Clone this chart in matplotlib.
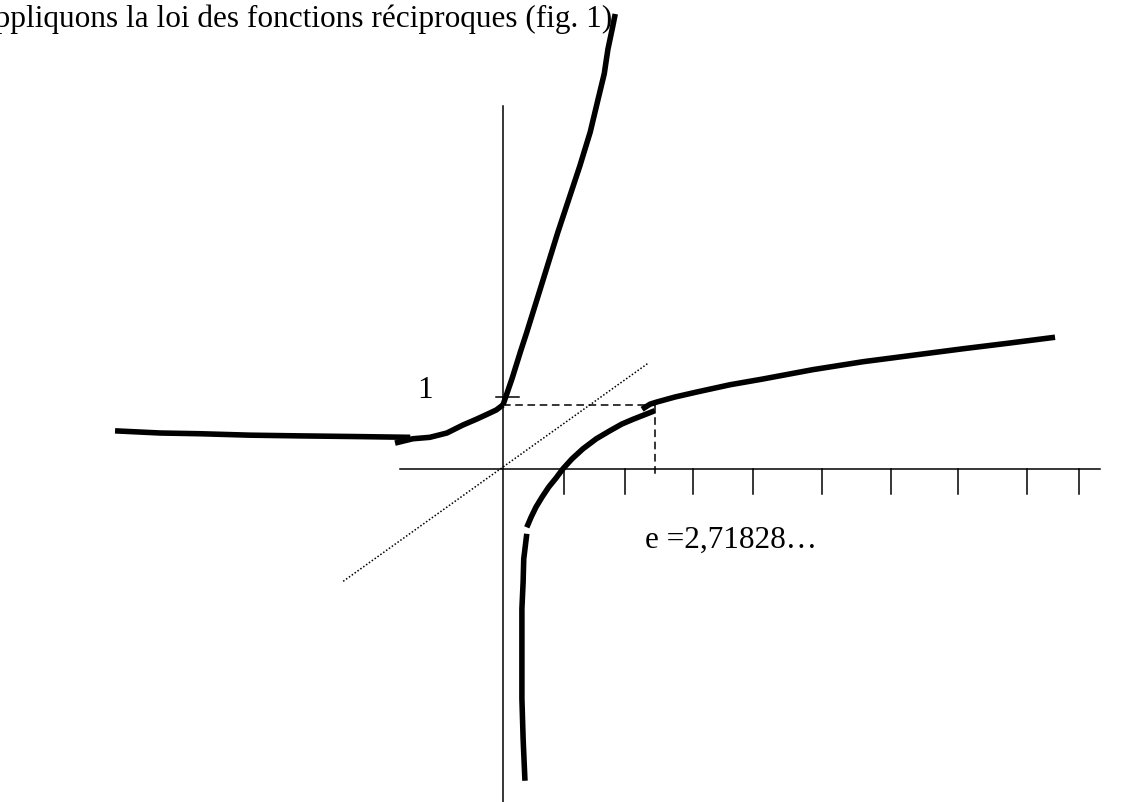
import matplotlib
matplotlib.use("Agg")
import matplotlib.pyplot as plt

# fonctions réciproques : exp et ln (tracé à la main)
plt.rcParams['font.family'] = ['Liberation Serif', 'DejaVu Serif']

# branche gauche de exp (deux traits)
trait_a_x = [-6.36, -5.62, -4.97, -4.15, -3.33, -2.34, -1.52]
trait_a_y = [0.53, 0.50, 0.49, 0.47, 0.46, 0.45, 0.44]
trait_b_x = [-1.77, -1.48, -1.20, -0.92, -0.66, -0.44, -0.26, -0.11, 0.0]
trait_b_y = [0.36, 0.42, 0.44, 0.50, 0.61, 0.69, 0.76, 0.82, 0.89]
# branche droite de exp
exp_x = [0.0, 0.15, 0.29, 0.39, 0.64, 0.90, 1.08, 1.26, 1.43, 1.56, 1.66, 1.72, 1.79, 1.84]
exp_y = [0.89, 1.26, 1.64, 1.90, 2.58, 3.29, 3.75, 4.21, 4.68, 5.14, 5.49, 5.83, 6.11, 6.32]
# ln : partie basse, courbe, queue
ln_bas_x = [0.39, 0.34, 0.33, 0.31, 0.31, 0.31, 0.31, 0.33, 0.36]
ln_bas_y = [-0.90, -1.25, -1.57, -1.94, -2.26, -2.71, -3.19, -3.75, -4.33]
ln_x = [0.39, 0.46, 0.54, 0.64, 0.75, 0.87, 0.98, 1.13, 1.31, 1.53, 1.75, 1.95, 2.13, 2.31, 2.49]
ln_y = [-0.81, -0.67, -0.53, -0.39, -0.25, -0.125, 0.0, 0.14, 0.28, 0.42, 0.53, 0.625, 0.69, 0.75, 0.81]
queue_x = [2.28, 2.41, 2.52, 2.82, 3.18, 3.72, 4.26, 5.08, 5.90, 6.72, 7.54, 8.31, 9.05]
queue_y = [0.83, 0.90, 0.93, 1.00, 1.07, 1.17, 1.25, 1.38, 1.49, 1.58, 1.67, 1.75, 1.83]

# graduations
ticks_x = [1.00, 2.00, 3.11, 4.10, 5.23, 6.36, 7.46, 8.59, 9.44]
e_val = 2.49
un_y = 0.89

fig = plt.figure(figsize=(11.48, 8.03), dpi=100)
ax = fig.add_axes([0, 0, 1, 1])
ax.set_xlim(-8.246, 10.574)
ax.set_ylim(-4.625, 6.528)
ax.axis('off')

# axes
ax.plot([-1.69, 9.79], [0, 0], color='black', lw=1.1)
ax.plot([0, 0], [-4.7, 5.04], color='black', lw=1.1)
for t in ticks_x:
    ax.plot([t, t], [0, -0.35], color='black', lw=1.1)
ax.plot([-0.11, 0.26], [1, 1], color='black', lw=1.1)

# bissectrice y = x
ax.plot([-2.62, 2.38], [-1.56, 1.47], color='black', lw=1.1, dashes=(1, 1.3))

# pointillés vers e
ax.plot([0, e_val], [un_y, un_y], color='black', lw=1.1, dashes=(5, 3))
ax.plot([e_val, e_val], [un_y, -0.11], color='black', lw=1.1, dashes=(5, 3))

kw = dict(color='black', lw=4.0, solid_capstyle='butt', solid_joinstyle='round')
ax.plot(trait_a_x, trait_a_y, **kw)
ax.plot(trait_b_x, trait_b_y, **kw)
ax.plot(exp_x, exp_y, **kw)
ax.plot(ln_bas_x, ln_bas_y, **kw)
ax.plot(ln_x, ln_y, **kw)
ax.plot(queue_x, queue_y, **kw)

ax.text(1.79, 6.15, "Appliquons la loi des fonctions réciproques (fig. 1)",
        fontsize=22.5, ha='right', va='baseline')
ax.text(-1.28, 1.0, "1", fontsize=22.5, ha='center', va='baseline')
ax.text(2.33, -1.08, "e =2,71828…", fontsize=22.5, ha='left', va='baseline')

fig.savefig("out.png", dpi=100)
